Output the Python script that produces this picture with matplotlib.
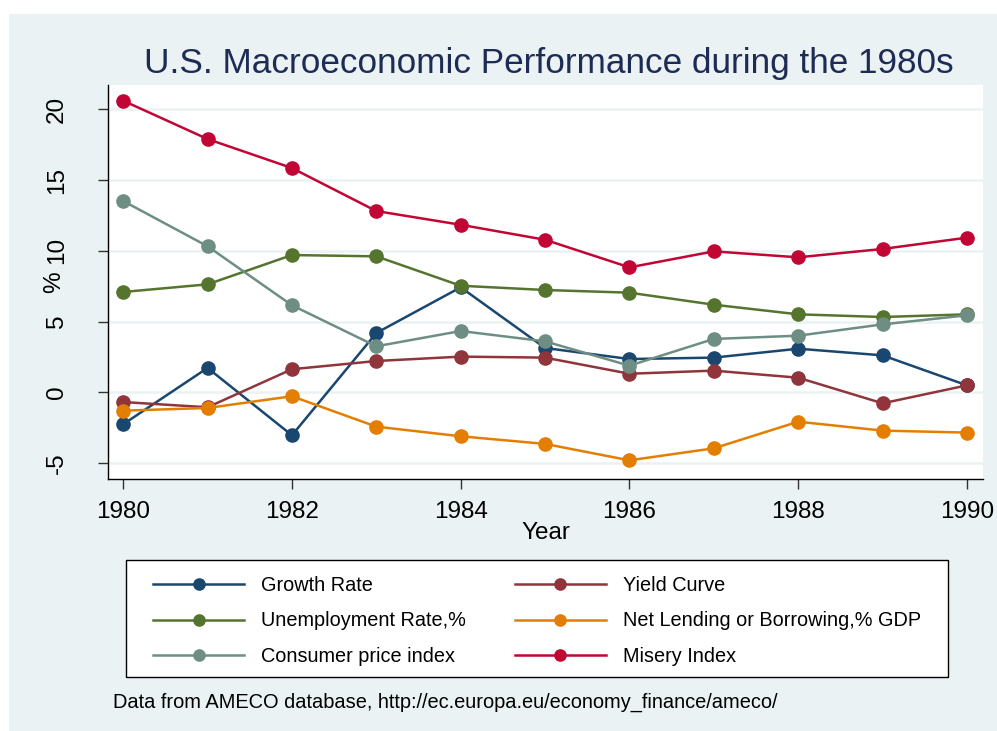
import matplotlib
matplotlib.use('Agg')
import matplotlib.pyplot as plt
from matplotlib.patches import Rectangle

# Values (percent)
years = [1980, 1981, 1982, 1983, 1984, 1985, 1986, 1987, 1988, 1989, 1990]
growth = [-2.26, 1.72, -3.04, 4.19, 7.42, 3.13, 2.35, 2.45, 3.08, 2.61, 0.49]
yield_curve = [-0.69, -1.06, 1.63, 2.21, 2.52, 2.45, 1.31, 1.53, 1.03, -0.78, 0.49]
unemployment = [7.09, 7.63, 9.70, 9.61, 7.53, 7.23, 7.04, 6.19, 5.51, 5.32, 5.51]
net_lending = [-1.30, -1.11, -0.28, -2.43, -3.11, -3.65, -4.81, -3.96, -2.08, -2.71, -2.85]
cpi = [13.52, 10.32, 6.15, 3.25, 4.33, 3.60, 1.88, 3.77, 4.00, 4.80, 5.44]
misery = [20.61, 17.90, 15.85, 12.81, 11.84, 10.78, 8.83, 9.96, 9.54, 10.13, 10.93]

series = [
    ('Growth Rate', growth, '#1a476f'),
    ('Yield Curve', yield_curve, '#90353b'),
    ('Unemployment Rate,%', unemployment, '#55752f'),
    ('Net Lending or Borrowing,% GDP', net_lending, '#e37e00'),
    ('Consumer price index', cpi, '#6e8e84'),
    ('Misery Index', misery, '#c10534'),
]

xticks = [1980, 1982, 1984, 1986, 1988, 1990]
yticks = [-5, 0, 5, 10, 15, 20]

BG = '#eaf2f3'
plt.rcParams['font.family'] = ['Liberation Sans', 'DejaVu Sans']
plt.rcParams['axes.unicode_minus'] = False

fig = plt.figure(figsize=(9.97, 7.31), dpi=100)
fig.patch.set_facecolor('white')
fig.patches.append(Rectangle((9 / 997, 0), 1, 1 - 14 / 731, transform=fig.transFigure,
                             facecolor=BG, edgecolor='none', zorder=-10))

ax = fig.add_axes([108 / 997, 1 - 479 / 731, 875 / 997, 394 / 731])
ax.set_facecolor('white')

handles = {}
for name, vals, col in series:
    h, = ax.plot(years, vals, color=col, lw=1.8, marker='o', ms=9.5,
                 mec=col, mfc=col, label=name, clip_on=False)
    handles[name] = h

ax.set_xlim(1979.82, 1990.19)
ax.set_ylim(-6.13, 21.72)
ax.set_xticks(xticks)
ax.set_yticks(yticks)
ax.tick_params(axis='both', labelsize=17.5, length=7, width=1, color='#333333', direction='out')
ax.tick_params(axis='x', pad=9)
ax.tick_params(axis='y', pad=22)
for lab in ax.get_yticklabels():
    lab.set_rotation(90)
    lab.set_va('center')
ax.yaxis.grid(True, color=BG, lw=1.8)
ax.set_axisbelow(True)
for s in ['top', 'right']:
    ax.spines[s].set_visible(False)
for s in ['left', 'bottom']:
    ax.spines[s].set_color('black')
    ax.spines[s].set_linewidth(1)

ax.set_ylabel('%', fontsize=17.5, rotation=90, va='center', ha='center')
ax.yaxis.set_label_coords((54 - 108) / 875, 0.5)
ax.set_xlabel('Year', fontsize=17.5, va='center')
ax.xaxis.set_label_coords(0.5, (479 - 533) / 394)

fig.text(549 / 997, 1 - 72.7 / 731, 'U.S. Macroeconomic Performance during the 1980s',
         fontsize=25.3, color='#1e2b55', ha='center', va='baseline')

# legend frame drawn by hand so its size matches the reference box
box_l, box_r, box_t, box_b = 126, 948, 560, 677
fig.patches.append(Rectangle((box_l / 997, 1 - box_b / 731), (box_r - box_l) / 997,
                             (box_b - box_t) / 731, transform=fig.transFigure,
                             facecolor='white', edgecolor='black', lw=1, zorder=1))

order = ['Growth Rate', 'Unemployment Rate,%', 'Consumer price index',
         'Yield Curve', 'Net Lending or Borrowing,% GDP', 'Misery Index']
leg = fig.legend([handles[n] for n in order], order, ncol=2, loc='center',
                 bbox_to_anchor=((box_l + box_r) / 2 / 997, 1 - 621 / 731),
                 fontsize=14.3, frameon=False, borderaxespad=0, borderpad=0,
                 handlelength=4.6, handletextpad=0.85, columnspacing=2.45,
                 labelspacing=0.85, markerscale=0.85)
leg.set_zorder(2)

fig.text(113 / 997, 1 - 708 / 731,
         'Data from AMECO database, http://ec.europa.eu/economy_finance/ameco/',
         fontsize=14.4, ha='left', va='baseline')

fig.savefig('out.png', dpi=100, facecolor=fig.get_facecolor())
